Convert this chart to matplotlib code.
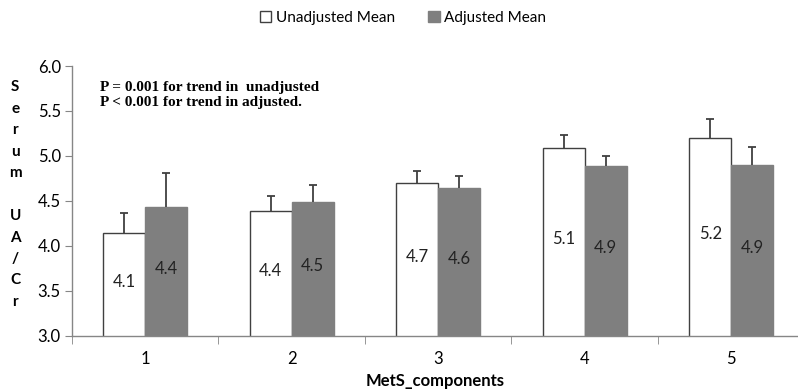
import matplotlib
matplotlib.use("Agg")
import matplotlib.pyplot as plt
import numpy as np
from matplotlib.patches import Patch

categories = ["1", "2", "3", "4", "5"]
unadjusted = [4.14, 4.39, 4.70, 5.09, 5.20]
unadjusted_err = [0.23, 0.16, 0.13, 0.14, 0.21]
adjusted = [4.43, 4.49, 4.64, 4.89, 4.90]
adjusted_err = [0.38, 0.19, 0.14, 0.11, 0.20]
unadj_labels = ["4.1", "4.4", "4.7", "5.1", "5.2"]
adj_labels = ["4.4", "4.5", "4.6", "4.9", "4.9"]

plt.rcParams["font.family"] = ["Lato", "DejaVu Sans"]

EDGE = "#404040"
GREY = "#7f7f7f"
AXIS = "#868686"

fig = plt.figure(figsize=(7.98, 3.91), dpi=100)
ax = fig.add_axes([0.0902, 0.1407, 0.9098, 0.6905])

x = np.arange(1, len(categories) + 1)
w = 0.287


def draw_series(xs, vals, errs, face, edge):
    ax.bar(xs, vals, w, color=face, edgecolor=edge, linewidth=1.0, zorder=2)
    vals = np.asarray(vals)
    errs = np.asarray(errs)
    # upper-only error bars, cap on top only
    ax.vlines(xs, vals, vals + errs, colors=EDGE, linewidth=1.3, zorder=3)
    ax.plot(xs, vals + errs, ls="none", marker="_", markersize=6, mew=1.3, color=EDGE, zorder=3)


draw_series(x - w / 2, unadjusted, unadjusted_err, "white", EDGE)
draw_series(x + w / 2, adjusted, adjusted_err, GREY, GREY)

for xi, v, lab in zip(x - w / 2, unadjusted, unadj_labels):
    ax.text(xi, (3.0 + v) / 2 + 0.03, lab, ha="center", va="center", fontsize=12, color="#222222")
for xi, v, lab in zip(x + w / 2, adjusted, adj_labels):
    ax.text(xi, (3.0 + v) / 2 + 0.03, lab, ha="center", va="center", fontsize=12, color="#222222")

ax.set_ylim(3.0, 6.0)
ax.set_xlim(0.5, 5.456)
ax.set_yticks(np.arange(3.0, 6.01, 0.5))
ax.set_yticklabels([f"{t:.1f}" for t in np.arange(3.0, 6.01, 0.5)], fontsize=12)
ax.set_xticks(x)
ax.set_xticklabels(categories, fontsize=12)
ax.set_xticks(np.arange(0.5, 5.0, 1.0), minor=True)
ax.tick_params(axis="x", which="major", length=0, pad=11)
ax.tick_params(axis="x", which="minor", length=6, color=AXIS)
ax.tick_params(axis="y", length=5, color=AXIS, pad=3)

for s in ["top", "right"]:
    ax.spines[s].set_visible(False)
for s in ["left", "bottom"]:
    ax.spines[s].set_color(AXIS)
    ax.spines[s].set_linewidth(1.0)

ax.set_xlabel("MetS_components", fontsize=12, fontweight="bold", labelpad=4)

fig.text(0.019, 0.795, "S\ne\nr\nu\nm\n\nU\nA\n/\nC\nr", ha="center", va="top",
         fontsize=11, fontweight="bold", linespacing=1.68)

ax.text(0.038, 0.945, "P = 0.001 for trend in  unadjusted\nP < 0.001 for trend in adjusted.",
        transform=ax.transAxes, ha="left", va="top", fontsize=11, fontweight="bold",
        family="Liberation Serif", linespacing=1.25)

handles = [Patch(facecolor="white", edgecolor=EDGE, label="Unadjusted Mean"),
           Patch(facecolor=GREY, edgecolor=GREY, label="Adjusted Mean")]
fig.legend(handles=handles, loc="center", bbox_to_anchor=(0.505, 0.955), ncol=2, frameon=False,
           fontsize=11, handlelength=0.75, handleheight=0.75, handletextpad=0.3, columnspacing=2.2)

fig.savefig("out.png", dpi=100)
